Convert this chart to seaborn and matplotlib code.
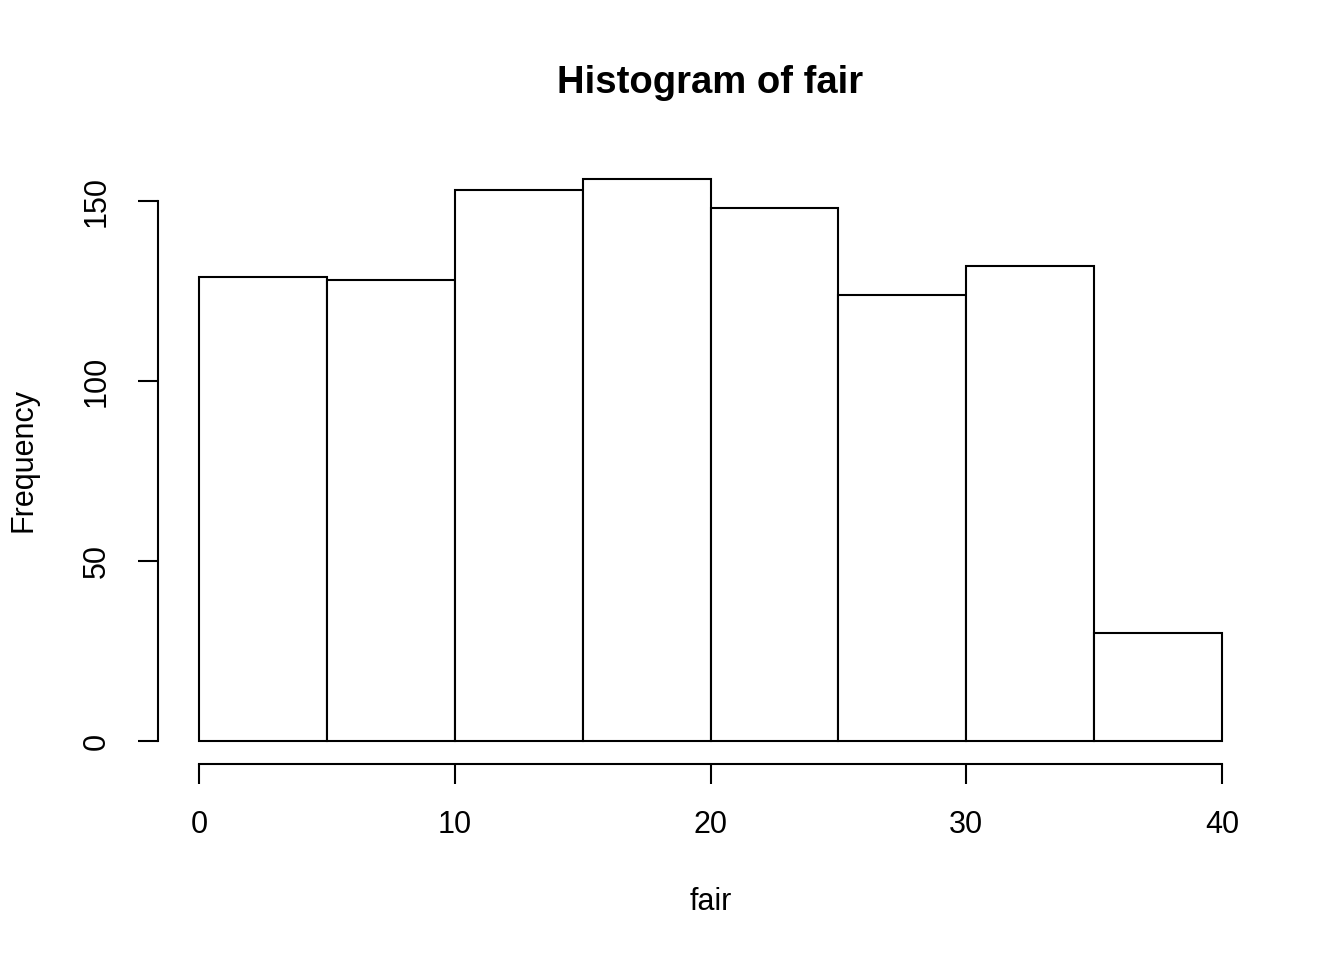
import matplotlib
matplotlib.use("Agg")
import matplotlib.pyplot as plt
import seaborn as sns
import numpy as np

# Data
bin_edges = [0, 5, 10, 15, 20, 25, 30, 35, 40]
counts = [129, 128, 153, 156, 148, 124, 132, 30]
x_ticks = [0, 10, 20, 30, 40]
y_ticks = [0, 50, 100, 150]

sns.set_theme(style="white")
plt.rcParams['font.family'] = ['Liberation Sans', 'DejaVu Sans']

fig = plt.figure(figsize=(13.44, 9.6), dpi=100)
ax = fig.add_axes([158/1344, 1 - 763.5/960, (1263 - 158)/1344, (763.5 - 157)/960])

centers = [(bin_edges[i] + bin_edges[i + 1]) / 2 for i in range(len(counts))]
sns.histplot(x=centers, weights=counts, bins=bin_edges, ax=ax,
             color="white", edgecolor="black", linewidth=1.5, alpha=1)

ymax = max(counts)
ax.set_xlim(-0.04 * 40, 40 * 1.04)
ax.set_ylim(-0.04 * ymax, ymax * 1.04)

for s in ["top", "right"]:
    ax.spines[s].set_visible(False)
for s in ["left", "bottom"]:
    ax.spines[s].set_color("black")
    ax.spines[s].set_linewidth(1.5)
ax.spines["bottom"].set_bounds(0, 40)
ax.spines["left"].set_bounds(0, 150)

ax.set_xticks(x_ticks)
ax.set_yticks(y_ticks)
ax.set_yticklabels([str(v) for v in y_ticks], rotation=90, va="center")
ax.tick_params(axis="both", direction="out", length=14.5, width=1.5, color="black",
               labelsize=22, pad=19, bottom=True, left=True, labelcolor="black")

ax.set_xlabel("fair", fontsize=22, labelpad=34, color="black")
ax.set_ylabel("Frequency", fontsize=22, labelpad=31, color="black")
ax.set_title("Histogram of fair", fontsize=27.5, fontweight="bold", pad=46, color="black")

fig.savefig("out.png", dpi=100, facecolor="white")
